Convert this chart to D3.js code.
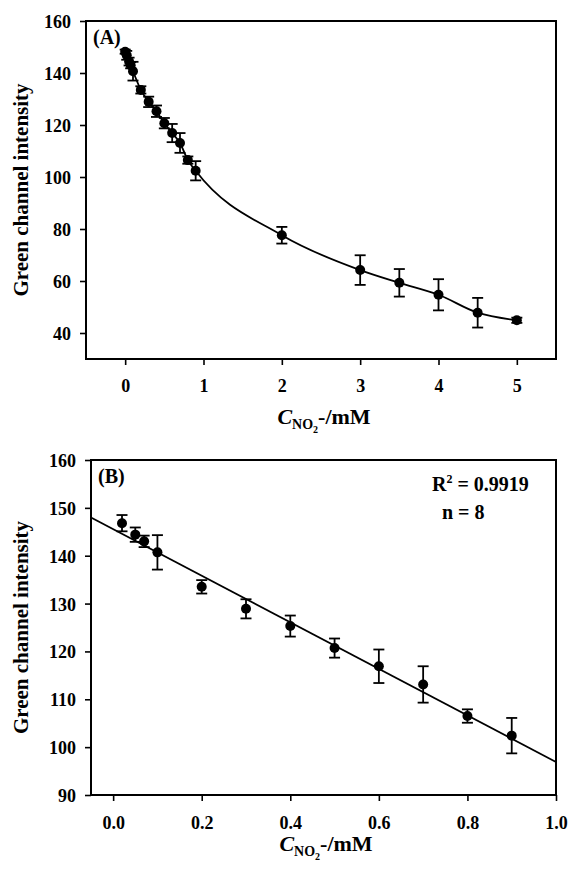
<!DOCTYPE html>
<html lang="en">
<head>
<meta charset="utf-8">
<title>Green channel intensity vs nitrite</title>
<script src="https://d3js.org/d3.v7.min.js"></script>
<style>
  body { margin: 0; background: #fff; }
  svg { display: block; }
  text { font-family: "Liberation Serif", "Times New Roman", serif; font-weight: bold; fill: #000; }
  .tick text { font-size: 18px; }
  .tick line { stroke: #000; stroke-width: 1.6px; }
</style>
</head>
<body>
<svg id="chart" width="569" height="872"></svg>
<script>
// panel A - full range (mM), mean and error
const concA = [0, 0.02, 0.05, 0.07, 0.1, 0.2, 0.3, 0.4, 0.5, 0.6, 0.7, 0.8, 0.9, 2, 3, 3.5, 4, 4.5, 5];
const meanA = [148.2, 146.8, 144.4, 143.0, 140.7, 133.5, 128.9, 125.3, 120.7, 116.9, 113.1, 106.5, 102.4, 77.6, 64.2, 59.3, 54.7, 47.8, 44.9];
const errA  = [0.8, 1.7, 1.5, 1.2, 3.6, 1.4, 2.0, 2.2, 2.0, 3.5, 3.8, 1.4, 3.7, 3.2, 5.7, 5.3, 6.0, 5.7, 1.0];

// panel B - linear range
const concB = [0.02, 0.05, 0.07, 0.1, 0.2, 0.3, 0.4, 0.5, 0.6, 0.7, 0.8, 0.9];
const meanB = [146.8, 144.4, 143.0, 140.7, 133.5, 128.9, 125.3, 120.7, 116.9, 113.1, 106.5, 102.4];
const errB  = [1.7, 1.5, 1.2, 3.6, 1.4, 2.0, 2.2, 2.0, 3.5, 3.8, 1.4, 3.7];

// regression line end points (B)
const fitX = [-0.05, 1.0];
const fitY = [148.0, 96.9];

const ticksAx = [0, 1, 2, 3, 4, 5];
const ticksAy = [40, 60, 80, 100, 120, 140, 160];
const ticksBx = [0, 0.2, 0.4, 0.6, 0.8, 1.0];
const ticksBy = [90, 100, 110, 120, 130, 140, 150, 160];

const svg = d3.select("#chart");

function drawPanel(cfg) {
  const x = d3.scaleLinear().domain(cfg.xDomain).range([cfg.left, cfg.right]);
  const y = d3.scaleLinear().domain(cfg.yDomain).range([cfg.bottom, cfg.top]);
  const g = svg.append("g");

  // axes (ticks outward)
  g.append("g")
    .attr("transform", `translate(0,${cfg.bottom})`)
    .call(d3.axisBottom(x).tickValues(cfg.xTicks).tickFormat(cfg.xFormat)
      .tickSize(6).tickSizeOuter(0).tickPadding(cfg.xPad))
    .call(a => a.select(".domain").remove());
  g.append("g")
    .attr("transform", `translate(${cfg.left},0)`)
    .call(d3.axisLeft(y).tickValues(cfg.yTicks).tickSize(6).tickSizeOuter(0).tickPadding(9))
    .call(a => a.select(".domain").remove())
    .selectAll("text").attr("dy", "0.36em");

  // frame
  g.append("rect")
    .attr("x", cfg.left).attr("y", cfg.top)
    .attr("width", cfg.right - cfg.left).attr("height", cfg.bottom - cfg.top)
    .attr("fill", "none").attr("stroke", "#000").attr("stroke-width", 2);

  // fitted / smooth line
  g.append("path")
    .datum(d3.zip(cfg.lineX, cfg.lineY))
    .attr("fill", "none").attr("stroke", "#000").attr("stroke-width", 1.8)
    .attr("d", d3.line().x(d => x(d[0])).y(d => y(d[1])).curve(cfg.curve));

  // error bars
  const pts = cfg.xs.map((v, i) => ({ x: v, y: cfg.ys[i], e: cfg.es[i] }));
  const eb = g.append("g").attr("stroke", "#000").attr("stroke-width", 1.8);
  pts.forEach(p => {
    const cx = x(p.x), y0 = y(p.y - p.e), y1 = y(p.y + p.e);
    eb.append("line").attr("x1", cx).attr("x2", cx).attr("y1", y0).attr("y2", y1);
    eb.append("line").attr("x1", cx - 5.5).attr("x2", cx + 5.5).attr("y1", y0).attr("y2", y0);
    eb.append("line").attr("x1", cx - 5.5).attr("x2", cx + 5.5).attr("y1", y1).attr("y2", y1);
  });

  g.append("g").selectAll("circle").data(pts).join("circle")
    .attr("cx", d => x(d.x)).attr("cy", d => y(d.y)).attr("r", 5).attr("fill", "#000");

  // panel label
  g.append("text").attr("x", cfg.left + 7).attr("y", cfg.top + 23)
    .style("font-size", "20px").text(cfg.label);

  // y title
  g.append("text")
    .attr("transform", `translate(28,${(cfg.top + cfg.bottom) / 2}) rotate(-90)`)
    .attr("text-anchor", "middle").style("font-size", "21px")
    .text("Green channel intensity");

  // x title: C_NO2-/mM
  const t = g.append("text").attr("x", cfg.titleX).attr("y", cfg.titleY)
    .attr("text-anchor", "middle").style("font-size", "22px");
  t.append("tspan").style("font-style", "italic").text("C");
  t.append("tspan").attr("dy", 5).style("font-size", "14px").text("NO");
  t.append("tspan").attr("dy", 4).style("font-size", "10px").text("2");
  t.append("tspan").attr("dy", -9).text("-/mM");
  return g;
}

drawPanel({
  left: 86, right: 556, top: 21, bottom: 359,
  xDomain: [-0.5, 5.5], yDomain: [30, 160],
  xTicks: ticksAx, yTicks: ticksAy, xFormat: d3.format("d"), xPad: 14,
  xs: concA, ys: meanA, es: errA,
  lineX: concA, lineY: meanA, curve: d3.curveMonotoneX,
  label: "(A)", titleX: 324, titleY: 424
});

const gB = drawPanel({
  left: 91, right: 556, top: 460, bottom: 795,
  xDomain: [-0.05, 1.0], yDomain: [90, 160],
  xTicks: ticksBx, yTicks: ticksBy, xFormat: d3.format(".1f"), xPad: 15,
  xs: concB, ys: meanB, es: errB,
  lineX: fitX, lineY: fitY, curve: d3.curveLinear,
  label: "(B)", titleX: 326, titleY: 851
});

// statistics
const r2 = gB.append("text").attr("x", 432).attr("y", 491).style("font-size", "20px");
r2.append("tspan").text("R");
r2.append("tspan").attr("dy", -8).style("font-size", "12px").text("2");
r2.append("tspan").attr("dy", 8).text(" = 0.9919");
gB.append("text").attr("x", 442).attr("y", 519).style("font-size", "20px").text("n = 8");
</script>
</body>
</html>
